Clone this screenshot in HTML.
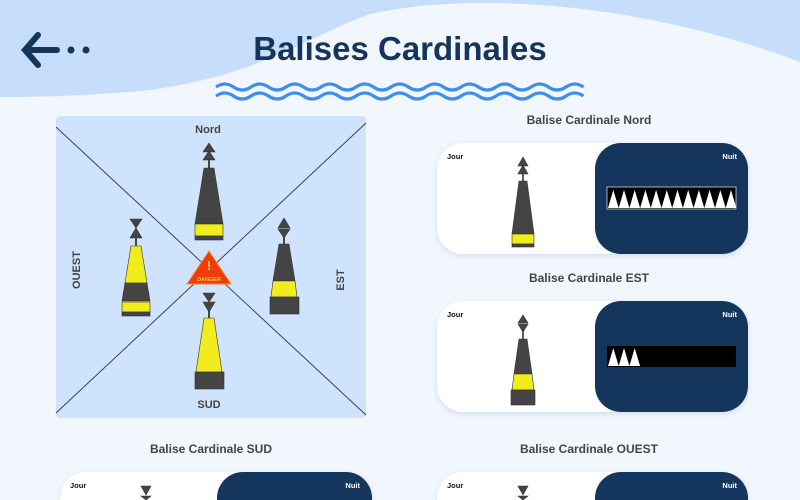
<!DOCTYPE html>
<html><head><meta charset="utf-8"><style>
html,body{margin:0;padding:0;width:800px;height:500px;overflow:hidden;background:#f2f7fe}
svg{display:block}
text{font-family:"Liberation Sans",sans-serif;font-weight:bold}
</style></head><body>
<svg width="800" height="500" viewBox="0 0 800 500" xmlns="http://www.w3.org/2000/svg">
<defs>
<filter id="sh" x="-10%" y="-20%" width="120%" height="140%"><feDropShadow dx="0" dy="2" stdDeviation="3" flood-color="#8aa6cc" flood-opacity="0.35"/></filter>
</defs>
<rect width="800" height="500" fill="#f2f7fe"/>
<path d="M0 0H800V62C650 5 480 -10 370 14C300 40 260 75 150 90C90 96 40 97 0 97Z" fill="#c6ddfc"/>
<g stroke="#15355c" stroke-width="6" stroke-linecap="round" fill="none"><path d="M38 35L25 50L38 65M25 50H57"/></g>
<circle cx="71" cy="50" r="3.5" fill="#15355c"/><circle cx="86" cy="50" r="3.5" fill="#15355c"/>
<text x="400" y="60" text-anchor="middle" font-size="33" fill="#15355c">Balises Cardinales</text>
<g stroke="#3d8ef0" stroke-width="3.2" fill="none">
<path d="M216 87 q8.75 -6 17.5 0 t17.5 0 t17.5 0 t17.5 0 t17.5 0 t17.5 0 t17.5 0 t17.5 0 t17.5 0 t17.5 0 t17.5 0 t17.5 0 t17.5 0 t17.5 0 t17.5 0 t17.5 0 t17.5 0 t17.5 0 t17.5 0 t17.5 0 t17.5 0"/>
<path d="M216 96 q8.75 -6 17.5 0 t17.5 0 t17.5 0 t17.5 0 t17.5 0 t17.5 0 t17.5 0 t17.5 0 t17.5 0 t17.5 0 t17.5 0 t17.5 0 t17.5 0 t17.5 0 t17.5 0 t17.5 0 t17.5 0 t17.5 0 t17.5 0 t17.5 0 t17.5 0"/>
</g>
<rect x="56" y="116" width="310" height="302" rx="4" fill="#cfe3fd"/>
<g stroke="#3a4450" stroke-width="1"><line x1="56" y1="127" x2="366" y2="415"/><line x1="366" y1="123" x2="56" y2="413"/></g>
<text x="208" y="133" text-anchor="middle" font-size="11" fill="#444">Nord</text>
<text x="209" y="408" text-anchor="middle" font-size="11" fill="#444">SUD</text>
<text transform="translate(80,270) rotate(-90)" text-anchor="middle" font-size="11" fill="#444">OUEST</text>
<text transform="translate(344,280) rotate(-90)" text-anchor="middle" font-size="11" fill="#444">EST</text>
<g fill="#444" stroke="#333" stroke-width="0.6">
<path d="M209 143L215 152H203Z M209 151L215 160H203Z"/><rect x="208.4" y="159" width="1.2" height="9"/>
<path d="M204 168H214L223 224H195Z"/>
<rect x="195" y="224" width="28" height="12" fill="#f0ec1e"/><rect x="195" y="236" width="28" height="4"/>
<path d="M130 219H142L136 228Z M136 228L142 238H130Z"/><rect x="135.4" y="237" width="1.2" height="9"/>
<path d="M131 246H141L147 283H125Z" fill="#f0ec1e"/><path d="M125 283H147L150 301H122Z"/>
<rect x="122" y="302" width="28" height="10" fill="#f0ec1e"/><rect x="122" y="312" width="28" height="4"/>
<path d="M284 218L290 228H278Z M278 229H290L284 238Z"/><rect x="283.4" y="237" width="1.2" height="7"/>
<path d="M279 244H289L295 281H273Z"/><path d="M273 281H295L297 297H271Z" fill="#f0ec1e"/>
<rect x="270" y="297" width="29" height="17"/>
<path d="M203 293H215L209 302Z M203 302H215L209 312Z"/><rect x="208.4" y="311" width="1.2" height="7"/>
<path d="M204 318H214L222 372H196Z" fill="#f0ec1e"/><rect x="195" y="372" width="29" height="17"/>
</g>
<path d="M209 251L231 284H187Z" fill="#f23b0a" stroke="#f38a2a" stroke-width="1"/>
<text x="209" y="270" text-anchor="middle" font-size="13" fill="#ffd43a">!</text>
<text x="209" y="281" text-anchor="middle" font-size="5.5" fill="#ffd43a">DANGER</text>
<g font-size="12" fill="#444" text-anchor="middle">
<text x="589" y="124">Balise Cardinale Nord</text>
<text x="589" y="282">Balise Cardinale EST</text>
<text x="211" y="453">Balise Cardinale SUD</text>
<text x="589" y="453">Balise Cardinale OUEST</text>
</g>
<g filter="url(#sh)">
<rect x="437" y="143" width="311" height="111" rx="26" fill="#fff"/>
<rect x="437" y="301" width="311" height="111" rx="26" fill="#fff"/>
<path d="M60 500V498A26 26 0 0 1 86 472H346A26 26 0 0 1 372 498V500Z" fill="#fff"/>
<path d="M437 500V498A26 26 0 0 1 463 472H722A26 26 0 0 1 748 498V500Z" fill="#fff"/>
</g>
<rect x="595" y="143" width="153" height="111" rx="26" fill="#14365d"/>
<rect x="595" y="301" width="153" height="111" rx="26" fill="#14365d"/>
<path d="M217 500V498A26 26 0 0 1 243 472H346A26 26 0 0 1 372 498V500Z" fill="#14365d"/>
<path d="M595 500V498A26 26 0 0 1 621 472H722A26 26 0 0 1 748 498V500Z" fill="#14365d"/>
<g font-size="7.5">
<text x="447" y="159" fill="#111">Jour</text><text x="737" y="159" fill="#fff" text-anchor="end">Nuit</text>
<text x="447" y="317" fill="#111">Jour</text><text x="737" y="317" fill="#fff" text-anchor="end">Nuit</text>
<text x="70" y="488" fill="#111">Jour</text><text x="360" y="488" fill="#fff" text-anchor="end">Nuit</text>
<text x="447" y="488" fill="#111">Jour</text><text x="737" y="488" fill="#fff" text-anchor="end">Nuit</text>
</g>
<g fill="#444" stroke="#333" stroke-width="0.6">
<path d="M523 157L528 166H518Z M523 165L528 174H518Z"/><rect x="522.5" y="173" width="1" height="8"/>
<path d="M519 181H527L534 234H512Z"/><rect x="512" y="234" width="22" height="10" fill="#f0ec1e"/><rect x="512" y="244" width="22" height="3"/>
<path d="M523 315L528 323H518Z M518 324H528L523 332Z"/><rect x="522.5" y="331" width="1" height="8"/>
<path d="M519 339H527L532 374H514Z"/><path d="M514 374H532L534 390H512Z" fill="#f0ec1e"/><rect x="511" y="390" width="24" height="15"/>
<path d="M141 486H151L146 495Z M141 496H151L146 500H146Z"/>
<path d="M518 486H528L523 495Z M518 496H528L523 500Z"/>
</g>
<rect x="607" y="187" width="129" height="22" fill="#000" stroke="#cfd6e0" stroke-width="0.8"/>
<path fill="#fff" d="M608 208l5.3-18l5.4 18l5.3-18l5.4 18l5.3-18l5.4 18l5.3-18l5.4 18l5.3-18l5.4 18l5.3-18l5.4 18l5.3-18l5.4 18l5.3-18l5.4 18l5.3-18l5.4 18l5.3-18l5.4 18l5.3-18l5.4 18l5.3-18l5.4 18Z"/>
<rect x="607" y="346" width="129" height="21" fill="#000"/>
<path fill="#fff" d="M608 366l5.3-18l5.4 18l5.3-18l5.4 18l5.3-18l5.4 18Z"/>
</svg>
</body></html>
